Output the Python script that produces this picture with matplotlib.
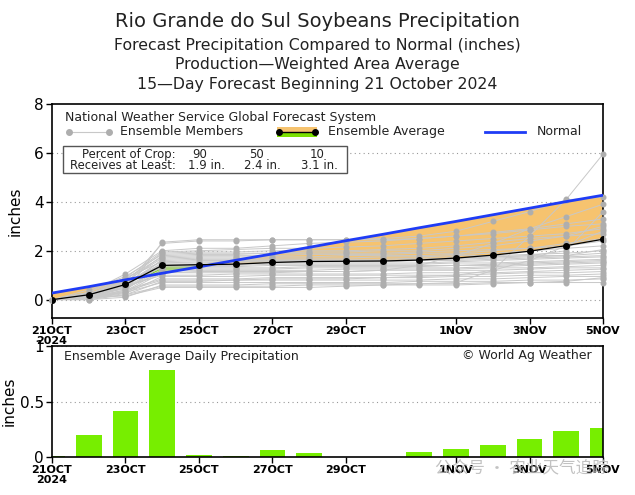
import matplotlib
matplotlib.use("Agg")
import matplotlib.pyplot as plt
from matplotlib.patches import Rectangle
from matplotlib.lines import Line2D

# ---------------- data ----------------
days = list(range(16))
tick_days = [0, 2, 4, 6, 8, 11, 13, 15]
tick_labels = ['21OCT\n2024', '23OCT', '25OCT', '27OCT', '29OCT', '1NOV', '3NOV', '5NOV']

ens_avg = [0.0, 0.20, 0.62, 1.40, 1.43, 1.45, 1.52, 1.56, 1.57, 1.58, 1.62, 1.70, 1.82, 1.98, 2.21, 2.47]
normal = [0.27, 0.53, 0.81, 1.08, 1.34, 1.61, 1.87, 2.14, 2.41, 2.67, 2.94, 3.20, 3.47, 3.74, 4.01, 4.27]
daily = [0.01, 0.20, 0.41, 0.78, 0.02, 0.005, 0.067, 0.036, 0.004, 0.003, 0.048, 0.07, 0.112, 0.16, 0.233, 0.264]

members = [
    [0, .05, .30, 2.35, 2.45, 2.45, 2.45, 2.45, 2.45, 2.45, 2.50, 2.60, 2.75, 2.90, 3.10, 3.30],
    [0, .10, .60, 2.30, 2.40, 2.40, 2.45, 2.45, 2.45, 2.50, 2.60, 2.80, 3.20, 3.60, 4.08, 4.20],
    [0, .30, 1.05, 2.00, 2.10, 2.10, 2.20, 2.30, 2.35, 2.40, 2.50, 2.60, 2.70, 2.85, 3.00, 3.10],
    [0, .20, .90, 1.95, 2.00, 2.05, 2.10, 2.10, 2.15, 2.20, 2.30, 2.40, 2.50, 2.60, 2.70, 2.90],
    [0, .15, .80, 1.90, 1.95, 1.95, 2.00, 2.00, 2.00, 2.05, 2.10, 2.20, 2.35, 2.50, 2.60, 2.70],
    [0, .40, .95, 1.85, 1.90, 1.90, 1.90, 1.95, 1.95, 2.00, 2.00, 2.10, 2.20, 2.40, 2.60, 3.00],
    [0, .10, .70, 1.80, 1.85, 1.85, 1.90, 1.90, 1.90, 1.90, 1.95, 2.00, 2.05, 2.10, 2.20, 2.40],
    [0, .20, .85, 1.75, 1.80, 1.80, 1.80, 1.85, 1.85, 1.85, 1.90, 1.90, 2.00, 2.10, 2.30, 2.50],
    [0, .25, .75, 1.70, 1.75, 1.75, 1.75, 1.75, 1.80, 1.80, 1.80, 1.85, 1.90, 2.00, 2.10, 2.20],
    [0, .05, .50, 1.65, 1.70, 1.70, 1.70, 1.70, 1.70, 1.75, 1.75, 1.80, 1.80, 1.85, 1.90, 2.00],
    [0, .15, .65, 1.60, 1.65, 1.65, 1.65, 1.65, 1.65, 1.65, 1.70, 1.70, 1.75, 1.80, 1.80, 1.90],
    [0, .30, .90, 1.55, 1.60, 1.60, 1.60, 1.60, 1.60, 1.60, 1.60, 1.65, 1.70, 1.75, 1.80, 2.05],
    [0, .10, .55, 1.50, 1.50, 1.55, 1.55, 1.55, 1.55, 1.55, 1.60, 1.60, 1.65, 1.70, 1.75, 1.80],
    [0, .20, .60, 1.45, 1.45, 1.50, 1.50, 1.50, 1.50, 1.50, 1.50, 1.55, 1.60, 1.65, 1.70, 1.75],
    [0, .05, .40, 1.40, 1.40, 1.40, 1.45, 1.45, 1.45, 1.45, 1.45, 1.50, 1.50, 1.55, 1.60, 1.65],
    [0, .10, .50, 1.35, 1.35, 1.35, 1.40, 1.40, 1.40, 1.40, 1.40, 1.40, 1.45, 1.50, 1.55, 1.60],
    [0, .25, .70, 1.30, 1.30, 1.30, 1.30, 1.35, 1.35, 1.35, 1.35, 1.40, 1.40, 1.45, 1.50, 1.55],
    [0, .15, .45, 1.25, 1.25, 1.25, 1.25, 1.30, 1.30, 1.30, 1.30, 1.30, 1.35, 1.40, 1.45, 1.50],
    [0, .05, .35, 1.20, 1.20, 1.20, 1.20, 1.20, 1.25, 1.25, 1.25, 1.25, 1.30, 1.30, 1.35, 1.40],
    [0, .10, .30, 1.10, 1.15, 1.15, 1.15, 1.15, 1.15, 1.20, 1.20, 1.20, 1.20, 1.25, 1.30, 1.30],
    [0, .20, .55, 1.00, 1.00, 1.05, 1.05, 1.05, 1.05, 1.05, 1.10, 1.10, 1.10, 1.15, 1.20, 1.25],
    [0, .05, .25, 0.95, 0.95, 0.95, 1.00, 1.00, 1.00, 1.00, 1.00, 1.00, 1.05, 1.10, 1.10, 1.15],
    [0, .10, .40, 0.85, 0.85, 0.85, 0.90, 0.90, 0.90, 0.90, 0.90, 0.95, 0.95, 1.00, 1.00, 1.05],
    [0, .00, .20, 0.75, 0.75, 0.80, 0.80, 0.80, 0.80, 0.80, 0.80, 0.85, 0.85, 0.90, 0.95, 0.95],
    [0, .05, .30, 0.70, 0.70, 0.70, 0.70, 0.70, 0.70, 0.70, 0.75, 0.75, 0.75, 0.80, 0.80, 0.85],
    [0, .00, .10, 0.60, 0.60, 0.60, 0.65, 0.65, 0.65, 0.65, 0.65, 0.65, 0.70, 0.70, 0.70, 0.70],
    [0, .10, .15, 0.50, 0.50, 0.50, 0.50, 0.50, 0.55, 0.60, 0.60, 0.60, 0.65, 0.70, 0.75, 0.90],
    [0, .05, .20, 0.55, 0.55, 0.55, 0.55, 0.60, 0.60, 0.60, 0.65, 0.70, 1.20, 2.60, 4.10, 5.95],
    [0, .15, .50, 1.10, 1.10, 1.10, 1.10, 1.15, 1.15, 1.20, 1.40, 1.80, 2.30, 2.90, 3.40, 3.90],
    [0, .05, .35, 0.80, 0.80, 0.80, 0.85, 0.85, 0.85, 0.90, 0.95, 1.00, 1.20, 1.60, 2.20, 2.80],
    [0, .20, .65, 1.50, 1.55, 1.55, 1.55, 1.60, 1.60, 1.60, 1.65, 1.70, 1.75, 1.80, 2.00, 3.60],
]

pct_crop = ['90', '50', '10']
pct_amount = ['1.9 in.', '2.4 in.', '3.1 in.']

# ---------------- style ----------------
W, H = 635, 495
ORANGE = '#F6C36F'
GREEN = '#7BE000'
BAR = '#77EE00'
BLUE = '#1F3CF5'
GRAY = '#AEAEAE'
LINEGRAY = '#C8C8C8'
TXT = '#222222'
TICKFONT = ['Liberation Sans Narrow', 'DejaVu Sans']

fig = plt.figure(figsize=(W / 100, H / 100), dpi=100)


def fx(px):
    return px / W


def fy(py):
    return 1 - py / H


def axes_rect(l, r, t, b):
    return [fx(l), fy(b), fx(r) - fx(l), fy(t) - fy(b)]


ax = fig.add_axes(axes_rect(52, 603, 104, 318))
ax2 = fig.add_axes(axes_rect(52, 603, 346, 457))

# ---------------- titles ----------------
fig.text(0.5, fy(27), 'Rio Grande do Sul Soybeans Precipitation', ha='center', va='baseline',
         fontsize=14, color=TXT)
fig.text(0.5, fy(50), 'Forecast Precipitation Compared to Normal (inches)', ha='center',
         va='baseline', fontsize=11.3, color=TXT)
fig.text(0.5, fy(69.5), 'Production\u2014Weighted Area Average', ha='center', va='baseline',
         fontsize=11.3, color=TXT)
fig.text(0.5, fy(89.5), '15\u2014Day Forecast Beginning 21 October 2024', ha='center',
         va='baseline', fontsize=11.3, color=TXT)

# ---------------- top panel ----------------
ax.set_xlim(0, 15)
ax.set_ylim(-0.75, 8)
for gy in [0, 2, 4, 6]:
    ax.axhline(gy, color='#999999', lw=0.8, ls=(0, (1, 3)), zorder=1)

ax.fill_between(days, ens_avg, normal, where=[n >= a for n, a in zip(normal, ens_avg)],
                interpolate=True, color=ORANGE, lw=0, zorder=2)
ax.fill_between(days, ens_avg, normal, where=[a > n for n, a in zip(normal, ens_avg)],
                interpolate=True, color=GREEN, lw=0, zorder=2)

for m in members:
    ax.plot(days, m, color=LINEGRAY, lw=0.7, marker='o', ms=3.3, mfc=GRAY, mec=GRAY,
            zorder=3, clip_on=False)

ax.plot(days, normal, color=BLUE, lw=2, zorder=5)
ax.plot(days, ens_avg, color='black', lw=0.9, marker='o', ms=4, zorder=6)

ax.set_yticks([0, 2, 4, 6, 8])
ax.set_yticklabels(['0', '2', '4', '6', '8'], fontsize=11)
ax.set_xticks(tick_days)
ax.set_xticklabels(tick_labels, fontsize=8, family=TICKFONT, fontweight='bold',
                   linespacing=0.95)
ax.tick_params(direction='out', length=4, width=1, pad=2)
ax.set_ylabel('inches', fontsize=11, labelpad=8)
for s in ax.spines.values():
    s.set_linewidth(1.2)

# legend inside top panel
fig.text(fx(65), fy(117), 'National Weather Service Global Forecast System', ha='left',
         va='center', fontsize=9.0, color=TXT)
ly = fy(132)
fig.add_artist(Line2D([fx(69), fx(109)], [ly, ly], color=LINEGRAY, lw=0.8, marker='o',
                      ms=4, mfc=GRAY, mec=GRAY))
fig.text(fx(120), ly, 'Ensemble Members', ha='left', va='center', fontsize=9.0, color=TXT)
fig.add_artist(Rectangle((fx(277), fy(137)), fx(40), fy(127) - fy(137), color=ORANGE, lw=0))
fig.add_artist(Rectangle((fx(277), fy(137)), fx(40), fy(133) - fy(137), color=GREEN, lw=0))
fig.add_artist(Line2D([fx(279), fx(315)], [ly, ly], color='black', lw=1, marker='o', ms=4))
fig.text(fx(328), ly, 'Ensemble Average', ha='left', va='center', fontsize=9.0, color=TXT)
fig.add_artist(Line2D([fx(485), fx(525)], [ly, ly], color=BLUE, lw=2))
fig.text(fx(537), ly, 'Normal', ha='left', va='center', fontsize=9.0, color=TXT)

# percent box
fig.add_artist(Rectangle((fx(63), fy(173.5)), fx(347) - fx(63), fy(146) - fy(173.5),
                         fill=True, fc='white', ec='#555555', lw=1, zorder=4))
r1, r2 = fy(154.5), fy(166)
fig.text(fx(176), r1, 'Percent of Crop:', ha='right', va='center', fontsize=8.4, color=TXT, zorder=5)
fig.text(fx(176), r2, 'Receives at Least:', ha='right', va='center', fontsize=8.4, color=TXT, zorder=5)
for cx_top, cx_bot, p, a in zip([200, 257, 317], [206, 262, 319], pct_crop, pct_amount):
    fig.text(fx(cx_top), r1, p, ha='center', va='center', fontsize=8.4, color=TXT, zorder=5)
    fig.text(fx(cx_bot), r2, a, ha='center', va='center', fontsize=8.4, color=TXT, zorder=5)

# ---------------- bottom panel ----------------
ax2.set_xlim(0, 15)
ax2.set_ylim(0, 1)
ax2.bar(days, daily, width=0.7, color=BAR, lw=0, zorder=2)
for gy in [0.5, 1.0]:
    ax2.axhline(gy, color='#999999', lw=0.8, ls=(0, (1, 3)), zorder=1)
ax2.set_yticks([0, 0.5, 1])
ax2.set_yticklabels(['0', '0.5', '1'], fontsize=11)
ax2.set_xticks(tick_days)
ax2.set_xticklabels(tick_labels, fontsize=8, family=TICKFONT, fontweight='bold',
                    linespacing=0.95)
ax2.tick_params(direction='out', length=4, width=1, pad=2)
ax2.set_ylabel('inches', fontsize=11, labelpad=2)
for s in ax2.spines.values():
    s.set_linewidth(1.2)

fig.text(fx(64), fy(356.5), 'Ensemble Average Daily Precipitation', ha='left', va='center',
         fontsize=9.0, color=TXT)
fig.text(fx(592), fy(356), '\u00a9 World Ag Weather', ha='right', va='center', fontsize=9.0,
         color=TXT)

# watermark
fig.text(fx(435), fy(468), '公众号 · 农业天气追踪', ha='left', va='center', fontsize=12,
         color='#B8B8B8', alpha=0.85, family=['Noto Sans CJK SC', 'DejaVu Sans'], zorder=10)

fig.savefig('out.png', dpi=100)
